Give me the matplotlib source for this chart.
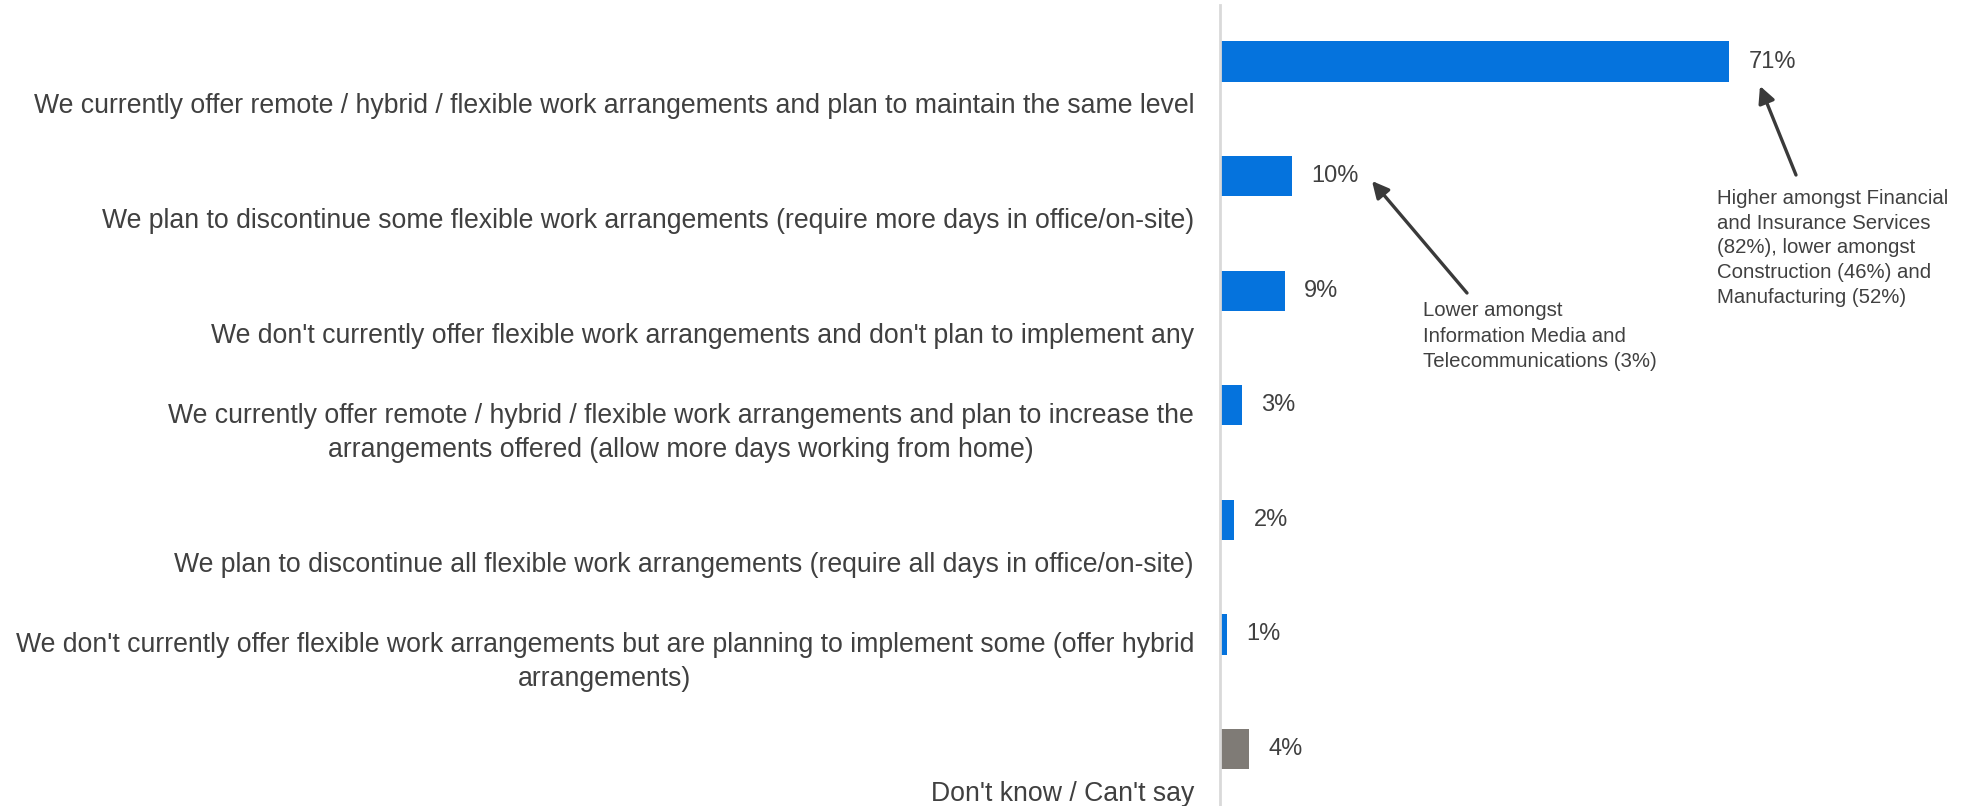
import matplotlib
matplotlib.use("Agg")
import matplotlib.pyplot as plt
from matplotlib.transforms import blended_transform_factory

plt.rcParams['font.family'] = ['Liberation Sans', 'DejaVu Sans']

categories = [
    "We currently offer remote / hybrid / flexible work arrangements and plan to maintain the same level",
    "We plan to discontinue some flexible work arrangements (require more days in office/on-site)",
    "We don't currently offer flexible work arrangements and don't plan to implement any",
    "We currently offer remote / hybrid / flexible work arrangements and plan to increase the\narrangements offered (allow more days working from home)",
    "We plan to discontinue all flexible work arrangements (require all days in office/on-site)",
    "We don't currently offer flexible work arrangements but are planning to implement some (offer hybrid\narrangements)",
    "Don't know / Can't say",
]
values = [71, 10, 9, 3, 2, 1, 4]
value_labels = ["71%", "10%", "9%", "3%", "2%", "1%", "4%"]
bar_colors = ["#0573DD"] * 6 + ["#7F7B76"]

note_top = ("Higher amongst Financial\nand Insurance Services\n(82%), lower amongst\n"
            "Construction (46%) and\nManufacturing (52%)")
note_mid = "Lower amongst\nInformation Media and\nTelecommunications (3%)"

W, H = 1983, 806
fig = plt.figure(figsize=(W / 100, H / 100), dpi=100)
ax_left = 1220 / W
ax_top = 1 - 5 / H
ax = fig.add_axes([ax_left, 0.0, 1.0 - ax_left, ax_top])

px_per_pct = (1729 - 1220) / 71.0
xmax = (W - 1220) / px_per_pct
step = 114.6
first = 61.5 - 5
ax.set_xlim(0, xmax)
ax.set_ylim((H - 5 - first) / step, -first / step)

y = list(range(len(values)))
ax.barh(y, values, height=0.35, color=bar_colors, zorder=2)

for spine in ["top", "right", "bottom"]:
    ax.spines[spine].set_visible(False)
ax.spines["left"].set_color("#D9D9D9")
ax.spines["left"].set_linewidth(2)
ax.set_xticks([])
ax.set_yticks([])

txt_color = "#404040"
trans = blended_transform_factory(ax.transAxes, ax.transData)
for i, lab in enumerate(categories):
    ax.text(-26 / (W - 1220), i + 0.505, lab, transform=trans, ha="right", va="bottom",
            multialignment="center", fontsize=19.15, color=txt_color, linespacing=1.43)

for i, (v, lab) in enumerate(zip(values, value_labels)):
    ax.annotate(lab, xy=(v, i), xytext=(14, 0), textcoords="offset points",
                ha="left", va="center", fontsize=17, color=txt_color)

fig.text(1717 / W, 1 - 189 / H, note_top, ha="left", va="top", fontsize=14.7,
         color=txt_color, linespacing=1.38)
fig.text(1423 / W, 1 - 301 / H, note_mid, ha="left", va="top", fontsize=14.7,
         color=txt_color, linespacing=1.44)

arrow_kw = dict(arrowstyle="-|>,head_length=1.0,head_width=0.5", color="#3A3A3A", lw=2.4,
                shrinkA=0, shrinkB=0)
ax.annotate("", xy=(1760, H - 86), xycoords="figure pixels",
            xytext=(1796, H - 175), textcoords="figure pixels", arrowprops=arrow_kw)
ax.annotate("", xy=(1372, H - 181), xycoords="figure pixels",
            xytext=(1467, H - 293), textcoords="figure pixels", arrowprops=arrow_kw)

fig.savefig("out.png", dpi=100, facecolor="white")
